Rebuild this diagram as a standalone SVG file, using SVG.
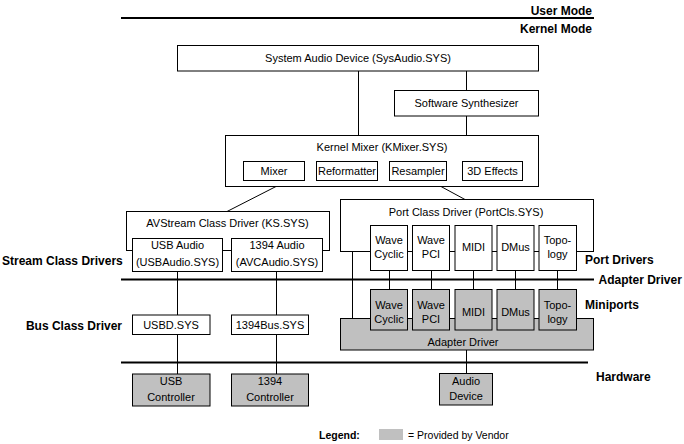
<svg xmlns="http://www.w3.org/2000/svg" width="684" height="444" viewBox="0 0 684 444">
<style>
text{font-family:"Liberation Sans",Arial,sans-serif;font-size:11px;fill:#000}
.c{text-anchor:middle}
.lbl{font-weight:bold;font-size:12px}
.r{text-anchor:end}
.box{fill:#fff;stroke:#000;stroke-width:1}
.v{fill:#c0c0c0;stroke:#000;stroke-width:1}
.ln{stroke:#000;stroke-width:1;fill:none}
.thick{stroke:#000;stroke-width:2;fill:none}
</style>
<rect width="684" height="444" fill="#fff"/>
<g id="layers">
<line class="thick" x1="121" y1="18" x2="594" y2="18"/>
<line class="thick" x1="121" y1="279.5" x2="594" y2="279.5"/>
<line class="thick" x1="121" y1="362.5" x2="588" y2="362.5"/>
<text class="lbl r" x="592" y="15">User Mode</text>
<text class="lbl r" x="592" y="33">Kernel Mode</text>
<text class="lbl" x="2" y="265">Stream Class Drivers</text>
<text class="lbl r" x="122" y="329.5">Bus Class Driver</text>
<text class="lbl" x="585" y="264">Port Drivers</text>
<text class="lbl" x="598.5" y="283.5">Adapter Driver</text>
<text class="lbl" x="585" y="308.5">Miniports</text>
<text class="lbl" x="596" y="380.5">Hardware</text>
</g>
<g id="connectors">
<line class="ln" x1="358.5" y1="71" x2="358.5" y2="135.5"/>
<line class="ln" x1="466.5" y1="71" x2="466.5" y2="90.5"/>
<line class="ln" x1="466.5" y1="116" x2="466.5" y2="135.5"/>
<line class="ln" x1="276" y1="186.5" x2="227" y2="211.5"/>
<line class="ln" x1="441" y1="186.5" x2="465" y2="199.5"/>
<line class="ln" x1="177.5" y1="271.5" x2="177.5" y2="374"/>
<line class="ln" x1="276.5" y1="271.5" x2="276.5" y2="374"/>
<line class="ln" x1="352.5" y1="251.5" x2="352.5" y2="318.5"/>
<line class="ln" x1="389.5" y1="270.5" x2="389.5" y2="289.5"/>
<line class="ln" x1="431.5" y1="270.5" x2="431.5" y2="289.5"/>
<line class="ln" x1="473.5" y1="270.5" x2="473.5" y2="289.5"/>
<line class="ln" x1="515.5" y1="270.5" x2="515.5" y2="289.5"/>
<line class="ln" x1="557.5" y1="270.5" x2="557.5" y2="289.5"/>
<line class="ln" x1="466.5" y1="350" x2="466.5" y2="373.5"/>
</g>
<g id="sysaudio">
<rect class="box" x="177.5" y="45.5" width="361" height="25.5"/>
<text class="c" x="358" y="62">System Audio Device (SysAudio.SYS)</text>
</g>
<g id="synth">
<rect class="box" x="394.5" y="90.5" width="144" height="25.5"/>
<text class="c" x="466.5" y="107">Software Synthesizer</text>
</g>
<g id="kmixer">
<rect class="box" x="225.5" y="135.5" width="313" height="51"/>
<text class="c" x="382" y="150.5">Kernel Mixer (KMixer.SYS)</text>
</g>
<g id="mixer">
<rect class="box" x="243.5" y="161.5" width="61" height="19"/>
<text class="c" x="274" y="175">Mixer</text>
</g>
<g id="reformatter">
<rect class="box" x="316.5" y="161.5" width="61" height="19"/>
<text class="c" x="347" y="175">Reformatter</text>
</g>
<g id="resampler">
<rect class="box" x="389.5" y="161.5" width="57" height="19"/>
<text class="c" x="418" y="175">Resampler</text>
</g>
<g id="effects3d">
<rect class="box" x="462.5" y="161.5" width="60" height="19"/>
<text class="c" x="492.5" y="175">3D Effects</text>
</g>
<g id="avstream">
<rect class="box" x="126.5" y="211.5" width="203" height="39"/>
<text class="c" x="227.5" y="227">AVStream Class Driver (KS.SYS)</text>
</g>
<g id="usbaudio">
<rect class="box" x="132.5" y="238.5" width="90" height="33"/>
<text class="c" x="177.5" y="249">USB Audio</text>
<text class="c" x="177.5" y="265.5">(USBAudio.SYS)</text>
</g>
<g id="avcaudio">
<rect class="box" x="231.5" y="238.5" width="91" height="33"/>
<text class="c" x="277" y="249">1394 Audio</text>
<text class="c" x="277" y="265.5">(AVCAudio.SYS)</text>
</g>
<g id="portcls">
<rect class="box" x="340.5" y="199.5" width="253" height="52"/>
<text class="c" x="466" y="215.5">Port Class Driver (PortCls.SYS)</text>
</g>
<g id="port-wavecyclic">
<rect class="box" x="370.5" y="225.5" width="37" height="45"/>
<text class="c" x="389" y="244">Wave</text>
<text class="c" x="389" y="257.5">Cyclic</text>
</g>
<g id="port-wavepci">
<rect class="box" x="412.5" y="225.5" width="37" height="45"/>
<text class="c" x="431" y="244">Wave</text>
<text class="c" x="431" y="257.5">PCI</text>
</g>
<g id="port-midi">
<rect class="box" x="455" y="225.5" width="37" height="45"/>
<text class="c" x="473.5" y="250.5">MIDI</text>
</g>
<g id="port-dmus">
<rect class="box" x="497" y="225.5" width="37" height="45"/>
<text class="c" x="515.5" y="250.5">DMus</text>
</g>
<g id="port-topology">
<rect class="box" x="539" y="225.5" width="37.5" height="45"/>
<text class="c" x="557.5" y="244">Topo-</text>
<text class="c" x="557.5" y="257.5">logy</text>
</g>
<g id="adapter">
<rect class="v" x="340.5" y="318.5" width="253" height="31.5"/>
<text class="c" x="463" y="346">Adapter Driver</text>
</g>
<g id="mini-wavecyclic">
<rect class="v" x="370.5" y="289.5" width="37" height="40.5"/>
<text class="c" x="389" y="309">Wave</text>
<text class="c" x="389" y="322.5">Cyclic</text>
</g>
<g id="mini-wavepci">
<rect class="v" x="412.5" y="289.5" width="37" height="40.5"/>
<text class="c" x="431" y="309">Wave</text>
<text class="c" x="431" y="322.5">PCI</text>
</g>
<g id="mini-midi">
<rect class="v" x="455" y="289.5" width="37" height="40.5"/>
<text class="c" x="473.5" y="315.5">MIDI</text>
</g>
<g id="mini-dmus">
<rect class="v" x="497" y="289.5" width="37" height="40.5"/>
<text class="c" x="515.5" y="315.5">DMus</text>
</g>
<g id="mini-topology">
<rect class="v" x="539" y="289.5" width="37.5" height="40.5"/>
<text class="c" x="557.5" y="309">Topo-</text>
<text class="c" x="557.5" y="322.5">logy</text>
</g>
<g id="usbd">
<rect class="box" x="132.5" y="315" width="77.5" height="19.5"/>
<text class="c" x="171" y="328.5">USBD.SYS</text>
</g>
<g id="bus1394">
<rect class="box" x="231.5" y="315" width="77" height="19.5"/>
<text class="c" x="270" y="328.5">1394Bus.SYS</text>
</g>
<g id="usbctrl">
<rect class="v" x="132.5" y="374" width="77.5" height="32"/>
<text class="c" x="171" y="385">USB</text>
<text class="c" x="171" y="400.5">Controller</text>
</g>
<g id="ctrl1394">
<rect class="v" x="231.5" y="374" width="77" height="32"/>
<text class="c" x="270" y="385">1394</text>
<text class="c" x="270" y="400.5">Controller</text>
</g>
<g id="audiodevice">
<rect class="v" x="439.5" y="373.5" width="53" height="31.5"/>
<text class="c" x="466" y="385">Audio</text>
<text class="c" x="466" y="399.5">Device</text>
</g>
<g id="legend">
<text x="319" y="439" style="font-weight:bold;font-size:10.5px">Legend:</text>
<rect x="379" y="429" width="24" height="11" fill="#c0c0c0"/>
<text x="408" y="439" style="font-size:10.5px">= Provided by Vendor</text>
</g>
</svg>
